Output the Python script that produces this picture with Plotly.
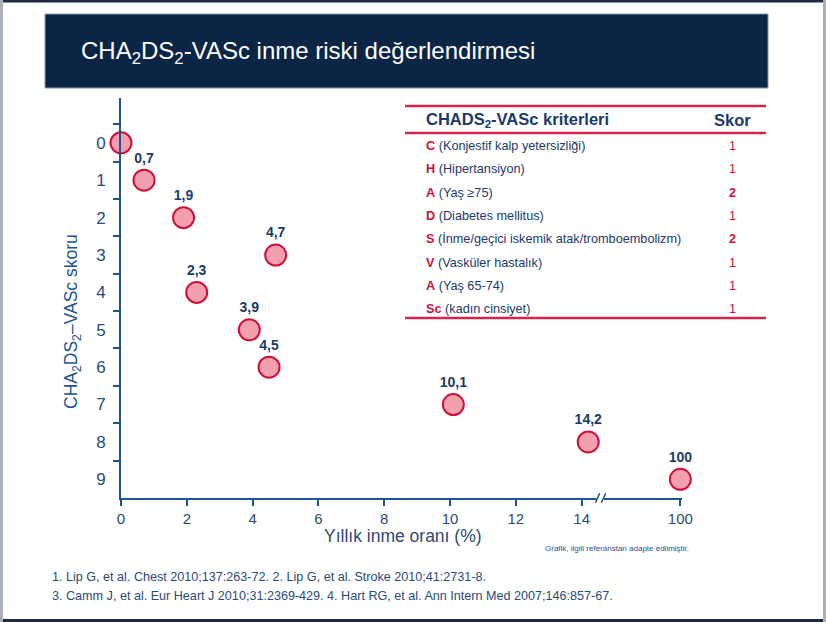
import plotly.graph_objects as go

# ---- data ----
rates = [0, 0.7, 1.9, 4.7, 2.3, 3.9, 4.5, 10.1, 14.2, 100]
scores = [0, 1, 2, 3, 4, 5, 6, 7, 8, 9]
x_ticks = [0, 2, 4, 6, 8, 10, 12, 14, 100]
y_ticks = [0, 1, 2, 3, 4, 5, 6, 7, 8, 9]

crit_letters = ["C", "H", "A", "D", "S", "V", "A", "Sc"]
crit_desc = ["(Konjestif kalp yetersizliği)", "(Hipertansiyon)", "(Yaş ≥75)",
             "(Diabetes mellitus)", "(İnme/geçici iskemik atak/tromboembolizm)",
             "(Vasküler hastalık)", "(Yaş 65-74)", "(kadın cinsiyet)"]
crit_score = [1, 1, 2, 1, 2, 1, 1, 1]

references = ["1. Lip G, et al. Chest 2010;137:263-72. 2. Lip G, et al. Stroke 2010;41:2731-8.",
              "3. Camm J, et al. Eur Heart J 2010;31:2369-429. 4. Hart RG, et al. Ann Intern Med 2007;146:857-67."]

# axis break: values above the break are drawn at position 17
BREAK_POS = 17
def brk(v):
    return v if v <= 15 else BREAK_POS

x_plot = [brk(r) for r in rates]
labels = ["" if r == 0 else f"{r:g}".replace(".", ",") for r in rates]

# ---- layout helpers ----
W, H = 826, 622
L, R, T, B = 121, 144, 98, 124
pw, ph = W - L - R, H - T - B
def px(x): return (x - L) / pw
def py(y): return (H - B - y) / ph

NAVY = "#1b3a6b"
AXIS = "#1d5492"
TICKC = "#2b4a78"
RED = "#d0103a"
FONT = "Liberation Sans, Arial, sans-serif"

fig = go.Figure()
fig.add_trace(go.Scatter(
    x=x_plot, y=scores, mode="markers+text", text=labels,
    textposition="top center",
    textfont=dict(family=FONT, size=14, color=NAVY, weight="bold"),
    marker=dict(size=21, color="#f29fb0", line=dict(color=RED, width=2)),
    cliponaxis=False, hoverinfo="skip", showlegend=False))

shapes = []
ann = []
# page frame
shapes += [
    dict(type="rect", xref="paper", yref="paper", x0=px(0), x1=px(W), y0=py(0), y1=py(2.5),
         fillcolor="#1f2b3d", line=dict(width=0)),
    dict(type="rect", xref="paper", yref="paper", x0=px(0), x1=px(W), y0=py(619), y1=py(H),
         fillcolor="#1f2b3d", line=dict(width=0)),
    dict(type="rect", xref="paper", yref="paper", x0=px(0), x1=px(3), y0=py(0), y1=py(H),
         fillcolor="#aab0b8", line=dict(width=0)),
    dict(type="rect", xref="paper", yref="paper", x0=px(823), x1=px(W), y0=py(0), y1=py(H),
         fillcolor="#aab0b8", line=dict(width=0)),
]
# title box
shapes.append(dict(type="rect", xref="paper", yref="paper", x0=px(45), x1=px(768),
                   y0=py(14), y1=py(88), fillcolor="#0b2545",
                   line=dict(color="#8a9bb0", width=1)))
ann.append(dict(xref="paper", yref="paper", x=px(79), y=py(52), xanchor="left", yanchor="middle",
                text="CHA<sub>2</sub>DS<sub>2</sub>-VASc inme riski değerlendirmesi",
                showarrow=False, font=dict(family=FONT, size=24, color="white")))

# table lines
for yy in (106, 133, 318):
    shapes.append(dict(type="line", xref="paper", yref="paper", x0=px(405), x1=px(766),
                       y0=py(yy), y1=py(yy), line=dict(color="#d4234f", width=2.5)))
ann.append(dict(xref="paper", yref="paper", x=px(424), y=py(120), xanchor="left", yanchor="middle",
                text="<b>CHADS<sub>2</sub>-VASc kriterleri</b>", showarrow=False,
                font=dict(family=FONT, size=16.5, color=NAVY)))
ann.append(dict(xref="paper", yref="paper", x=px(732), y=py(120), xanchor="center", yanchor="middle",
                text="<b>Skor</b>", showarrow=False, font=dict(family=FONT, size=16.5, color=NAVY)))
for i, (lt, d, s) in enumerate(zip(crit_letters, crit_desc, crit_score)):
    yy = 146 + i * 23.3
    ann.append(dict(xref="paper", yref="paper", x=px(424), y=py(yy), xanchor="left", yanchor="middle",
                    text=f"<span style='color:{RED}'><b>{lt}</b></span> {d}", showarrow=False,
                    font=dict(family=FONT, size=12.7, color=NAVY)))
    st = f"<b>{s}</b>" if s > 1 else f"{s}"
    ann.append(dict(xref="paper", yref="paper", x=px(732), y=py(yy), xanchor="center", yanchor="middle",
                    text=st, showarrow=False, font=dict(family=FONT, size=12.7, color=RED)))

# axis titles
ann.append(dict(xref="paper", yref="paper", x=px(72), y=py(322), xanchor="center", yanchor="middle",
                textangle=-90, text="CHA<sub>2</sub>DS<sub>2</sub>–VASc skoru", showarrow=False,
                font=dict(family=FONT, size=17.5, color=AXIS)))
ann.append(dict(xref="paper", yref="paper", x=px(403), y=py(536), xanchor="center", yanchor="middle",
                text="Yıllık inme oranı (%)", showarrow=False,
                font=dict(family=FONT, size=17.5, color=TICKC)))
ann.append(dict(xref="paper", yref="paper", x=px(617), y=py(548), xanchor="center", yanchor="middle",
                text="Grafik, ilgili referanstan adapte edilmiştir.", showarrow=False,
                font=dict(family=FONT, size=8, color=AXIS)))
for i, ref in enumerate(references):
    ann.append(dict(xref="paper", yref="paper", x=px(50), y=py(577 + i * 19), xanchor="left",
                    yanchor="middle", text=ref, showarrow=False,
                    font=dict(family=FONT, size=12.6, color=TICKC)))

# axis break marks
shapes.append(dict(type="rect", xref="x", yref="paper", x0=14.46, x1=14.68, y0=-0.012, y1=0.012,
                   fillcolor="white", line=dict(width=0), layer="above"))
for x0 in (14.42, 14.6):
    shapes.append(dict(type="line", xref="x", yref="paper", x0=x0, x1=x0 + 0.13,
                       y0=-0.012, y1=0.012, line=dict(color=AXIS, width=1.5), layer="above"))

fig.update_layout(
    width=W, height=H, margin=dict(l=L, r=R, t=T, b=B, pad=0),
    paper_bgcolor="white", plot_bgcolor="white",
    shapes=shapes, annotations=ann,
    xaxis=dict(range=[0, 17.05], tickvals=[brk(v) for v in x_ticks],
               ticktext=[str(v) for v in x_ticks], showgrid=False, zeroline=False,
               showline=True, linecolor=AXIS, linewidth=2, ticks="outside", ticklen=6,
               tickwidth=1.5, tickcolor=AXIS,
               tickfont=dict(family=FONT, size=15, color=TICKC)),
    yaxis=dict(range=[9.5, -1.2], tickvals=y_ticks, ticktext=[str(v) for v in y_ticks],
               showgrid=False, zeroline=False, showline=True, linecolor=AXIS, linewidth=2,
               ticks="", ticklabelstandoff=10,
               minor=dict(tickmode="array", tickvals=[v - 0.5 for v in y_ticks], ticks="outside",
                          ticklen=6, tickwidth=1.5, tickcolor=AXIS, showgrid=False),
               tickfont=dict(family=FONT, size=17, color=TICKC)),
)

fig.write_html("out.html", config={"displayModeBar": False},
               post_script="document.body.style.margin='0';document.body.style.overflow='hidden';")
